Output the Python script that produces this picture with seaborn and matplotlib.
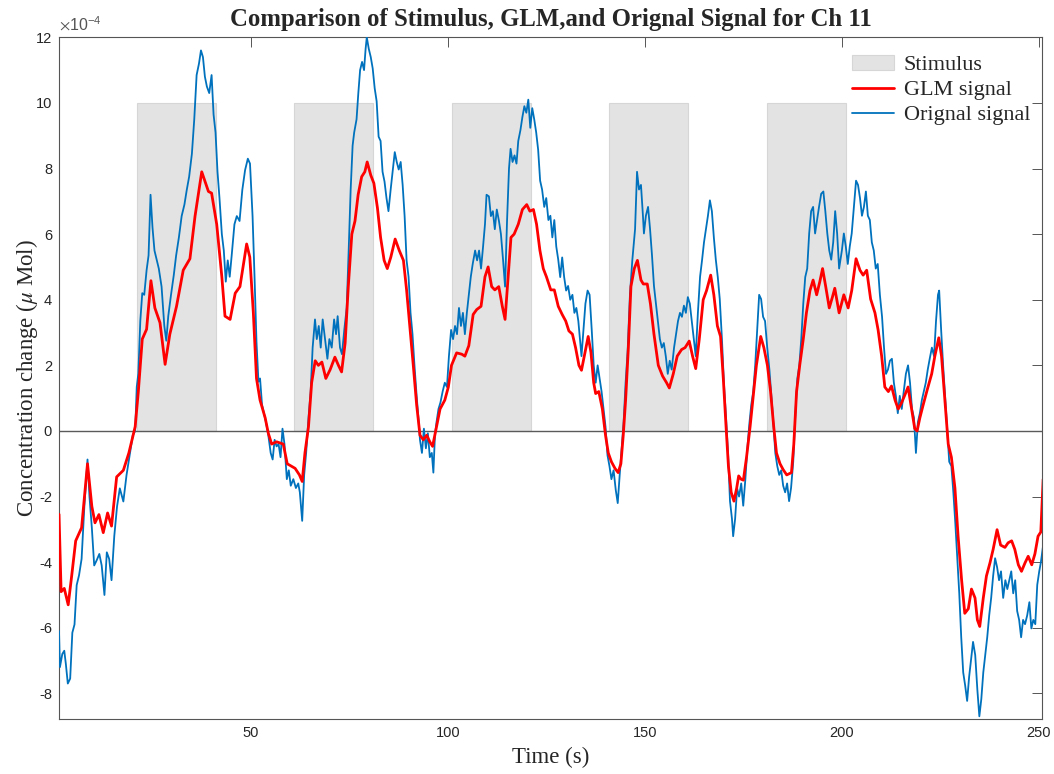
import numpy as np
import pandas as pd
import matplotlib
matplotlib.use("Agg")
import matplotlib.pyplot as plt
import seaborn as sns
from matplotlib.ticker import FuncFormatter

# ---------------- data (concentration in units of 1e-4 uMol) ----------------
stim_onset = [21, 61, 101, 141, 181]
stim_offset = [41, 81, 121, 161, 201]
stim_level = [10, 10, 10, 10, 10]

glm_t = [1.27, 1.8, 2.6, 3.6, 4.5, 5.5, 7.0, 8.5, 9.6, 10.4, 11.4, 12.5, 13.6, 14.6, 15.9, 17.6, 19.0, 20.6,
         21.4, 22.4, 23.5, 24.6, 25.6, 26.9, 28.2, 29.4, 31.1, 32.8, 34.5, 35.8, 37.5, 39.2, 40.0, 41.3, 42.6,
         43.4, 44.7, 46.0, 47.2, 48.9, 49.7, 50.6, 51.4, 52.3, 53.6, 54.4, 55.25, 56.5, 58.2, 59.2, 61.2, 62.3,
         63.0, 63.7, 64.6, 65.4, 66.3, 67.1, 68.0, 69.0, 70.1, 71.3, 72.2, 73.0, 73.9, 74.7, 75.6, 76.4, 77.2,
         78.1, 78.9, 79.5, 80.4, 81.2, 82.1, 82.9, 83.8, 84.6, 85.5, 86.6, 87.65, 88.7, 89.5, 90.4, 91.2, 92.05,
         92.9, 93.75, 94.6, 95.4, 96.1, 97.0, 98.0, 99.2, 100.1, 100.9, 102.2, 103.5, 104.3, 105.3, 106.4, 107.3,
         108.4, 109.4, 110.2, 111.1, 111.9, 112.9, 113.8, 114.5, 115.1, 116.0, 116.8, 117.85, 118.9, 120.0, 120.8,
         121.7, 122.5, 123.35, 124.2, 125.0, 126.1, 127.0, 128.0, 129.0, 129.9, 130.7, 131.6, 132.4, 133.25,
         133.9, 134.8, 135.6, 136.3, 137.0, 137.5, 138.3, 139.2, 140.0, 140.7, 141.5, 142.4, 143.2, 143.9, 144.5,
         145.1, 145.8, 146.45, 147.3, 148.1, 149.0, 149.6, 150.6, 151.4, 152.3, 153.4, 154.5, 155.5, 156.2, 157.2,
         158.2, 159.3, 160.2, 161.25, 162.1, 162.9, 163.8, 164.8, 165.65, 166.7, 167.5, 168.4, 169.2, 169.9, 170.6,
         171.2, 171.9, 172.6, 173.3, 173.8, 174.4, 175.0, 175.8, 176.7, 177.5, 178.3, 179.4, 180.2, 181.1, 181.9,
         182.7, 183.4, 184.3, 185.1, 186.0, 187.2, 187.8, 188.5, 189.3, 190.2, 191.0, 191.9, 192.7, 193.6, 194.4,
         195.1, 195.9, 196.8, 197.6, 198.2, 199.3, 200.5, 201.6, 202.5, 203.6, 204.6, 205.4, 206.3, 207.3, 208.4,
         209.2, 210.1, 210.9, 211.8, 212.6, 213.5, 214.3, 215.2, 216.0, 216.8, 217.7, 218.5, 219.1, 219.8, 220.65,
         221.7, 222.8, 223.6, 224.6, 225.3, 226.15, 227.0, 227.8, 228.7, 229.5, 230.4, 231.2, 232.1, 232.9, 233.8,
         234.4, 235.0, 235.9, 236.7, 237.6, 238.4, 239.4, 240.3, 241.4, 242.2, 243.1, 243.9, 244.8, 245.6, 246.5,
         247.3, 248.2, 249.0, 249.8, 250.5, 251.1]
glm_v = [-2.54, -4.9, -4.8, -5.3, -4.4, -3.35, -2.95, -1.0, -2.3, -2.8, -2.55, -3.1, -2.5, -2.9, -1.4, -1.2, -0.67, 0.13,
         1.2, 2.8, 3.1, 4.58, 3.75, 3.3, 2.03, 2.95, 3.8, 4.9, 5.25, 6.55, 7.9, 7.3, 7.25, 6.3, 4.7,
         3.5, 3.4, 4.2, 4.4, 5.7, 5.3, 3.6, 1.6, 0.94, 0.4, -0.07, -0.4, -0.33, -0.4, -1.0, -1.14, -1.34,
         -1.54, -0.67, 0.13, 1.47, 2.14, 2.0, 2.1, 1.6, 1.87, 2.25, 2.0, 1.8, 2.68, 4.4, 6.0, 6.4, 7.2,
         7.75, 7.9, 8.2, 7.8, 7.55, 6.8, 5.9, 5.2, 4.95, 5.3, 5.85, 5.5, 5.2, 4.3, 3.1, 2.0, 0.8,
         -0.13, -0.27, -0.13, -0.33, -0.47, 0.07, 0.67, 0.94, 1.34, 2.0, 2.38, 2.34, 2.28, 2.6, 3.55, 3.7,
         3.8, 4.7, 5.0, 4.4, 4.3, 4.4, 3.8, 3.4, 4.4, 5.9, 6.0, 6.3, 6.75, 6.9, 6.7,
         6.75, 6.3, 5.5, 4.95, 4.7, 4.3, 4.3, 3.8, 3.55, 3.35, 3.05, 2.95, 2.54, 2.0,
         1.85, 2.4, 2.88, 2.4, 1.47, 1.14, 1.2, 0.67, -0.13, -0.67, -0.94, -1.14, -1.27, -1.0, -0.13,
         0.94, 2.54, 4.4, 4.95, 5.2, 4.6, 4.48, 4.48, 3.88, 2.95, 2.0, 1.67, 1.47, 1.31, 1.74,
         2.28, 2.48, 2.54, 2.74, 2.28, 1.9, 2.8, 4.0, 4.28, 4.75, 4.15, 3.2, 2.88, 1.6, 0.13,
         -1.07, -1.87, -2.14, -1.74, -1.37, -1.47, -1.5, -0.8, 0.13, 1.07, 2.0, 2.88, 2.54, 2.0, 1.2,
         0.13, -0.67, -1.0, -1.18, -1.34, -1.27, -0.4, 1.2, 2.0, 2.8, 3.6, 4.28, 4.6, 4.15, 4.55,
         4.95, 4.4, 3.75, 4.08, 4.35, 3.6, 4.15, 3.75, 4.28, 5.25, 4.9, 4.75, 4.9, 4.02, 3.6,
         3.08, 2.28, 1.34, 1.2, 1.37, 0.94, 0.67, 0.87, 1.1, 1.34, 0.67, 0.07, 0.0, 0.4, 0.8,
         1.27, 1.74, 2.28, 2.84, 2.28, 0.94, -0.4, -0.8, -1.74, -3.21, -4.55, -5.56, -5.42, -4.82, -5.09,
         -5.76, -5.96, -5.09, -4.42, -4.02, -3.61, -3.01, -3.48, -3.55, -3.41, -3.35, -3.61, -4.08, -4.28, -4.02,
         -3.82, -4.08, -3.75, -3.21, -3.08, -1.47]

orig_t = [1.27, 1.5, 2.1, 2.6, 3.0, 3.5, 4.1, 4.65, 5.2, 5.75, 6.35, 7.0, 7.7, 8.5, 9.0, 9.6, 10.2, 10.8, 11.5, 12.1,
          12.8, 13.4, 14.0, 14.6, 15.3, 16.0, 16.7, 17.6, 18.4, 19.3, 20.0, 20.6, 21.0, 21.4, 21.9, 22.4, 22.9, 23.5,
          24.0, 24.5, 25.0, 25.5, 26.1, 26.6, 27.3, 28.0, 28.5, 29.0, 29.7, 30.4, 31.0, 31.7, 32.4, 33.1, 33.7, 34.3,
          35.0, 35.6, 36.2, 36.8, 37.3, 37.8, 38.3, 38.8, 39.4, 40.0, 40.5, 41.0, 41.5, 42.0, 42.6, 43.1, 43.6, 44.1,
          44.6, 45.1, 45.8, 46.4, 47.1, 47.8, 48.5, 49.2, 49.75, 50.4, 50.9, 51.4, 51.9, 52.3, 52.8, 53.3, 53.8,
          54.4, 55.0, 55.5, 56.0, 56.5, 57.0, 57.5, 58.0, 58.5, 59.1, 59.6, 60.1, 60.75, 61.4, 62.0, 62.4, 63.0,
          63.5, 64.0, 64.6, 65.15, 65.65, 66.25, 66.7, 67.2, 67.7, 68.2, 68.8, 69.4, 69.9, 70.5, 71.1, 71.6, 72.0,
          72.6, 73.1, 73.7, 74.3, 74.8, 75.3, 75.8, 76.2, 76.8, 77.25, 77.7, 78.2, 78.7, 79.1, 79.4, 79.9, 80.4,
          80.9, 81.4, 81.9, 82.4, 82.9, 83.4, 83.9, 84.4, 84.9, 85.45, 85.95, 86.5, 87.0, 87.5, 88.0, 88.5, 89.0,
          89.5, 90.0, 90.5, 91.0, 91.5, 92.05, 92.5, 92.9, 93.4, 93.9, 94.4, 94.9, 95.4, 95.9, 96.3, 96.7, 97.1,
          97.6, 98.1, 98.65, 99.2, 99.75, 100.25, 100.8, 101.3, 101.8, 102.3, 102.8, 103.3, 103.8, 104.3, 104.8,
          105.3, 105.8, 106.3, 106.9, 107.4, 107.9, 108.4, 108.9, 109.4, 109.8, 110.4, 110.9, 111.4, 111.9, 112.4,
          112.95, 113.45, 114.0, 114.5, 115.0, 115.5, 115.9, 116.4, 116.9, 117.4, 117.85, 118.4, 118.9, 119.4,
          119.9, 120.4, 120.9, 121.4, 121.9, 122.4, 122.9, 123.4, 123.9, 124.45, 124.95, 125.5, 126.0, 126.5,
          127.0, 127.5, 128.0, 128.5, 129.0, 129.5, 130.0, 130.5, 131.05, 131.6, 132.1, 132.6, 133.1, 133.5,
          133.9, 134.4, 134.9, 135.45, 135.96, 136.5, 137.0, 137.5, 138.0, 138.5, 139.0, 139.5, 140.0, 140.5,
          141.0, 141.5, 142.05, 142.6, 143.1, 143.6, 144.1, 144.6, 145.1, 145.6, 146.2, 146.8, 147.5, 148.0,
          148.5, 149.0, 149.5, 149.75, 150.25, 150.8, 151.3, 151.8, 152.3, 152.8, 153.3, 153.8, 154.3, 154.8,
          155.3, 155.8, 156.3, 156.8, 157.4, 157.9, 158.4, 158.9, 159.4, 159.9, 160.4, 160.9, 161.4, 161.9,
          162.4, 162.9, 163.45, 164.0, 164.5, 165.0, 165.5, 166.0, 166.5, 167.0, 167.5, 168.0, 168.5, 169.0,
          169.55, 170.05, 170.6, 171.1, 171.6, 172.1, 172.4, 172.9, 173.4, 173.9, 174.45, 174.96, 175.5, 176.0,
          176.5, 177.0, 177.5, 178.0, 178.5, 179.0, 179.5, 180.0, 180.5, 181.05, 181.6, 182.1, 182.6, 183.1,
          183.6, 184.1, 184.6, 185.1, 185.6, 186.1, 186.6, 187.1, 187.65, 188.2, 188.7, 189.2, 189.7, 190.2,
          190.7, 191.2, 191.7, 192.2, 192.7, 193.2, 193.7, 194.2, 194.75, 195.3, 195.8, 196.3, 196.8, 197.3,
          197.8, 198.3, 198.8, 199.3, 200.0, 200.5, 201.0, 201.5, 202.0, 202.5, 203.05, 203.6, 204.1, 204.6,
          205.1, 205.6, 206.1, 206.6, 207.1, 207.6, 208.1, 208.6, 209.1, 209.65, 210.2, 210.7, 211.2, 211.7,
          212.2, 212.7, 213.2, 213.7, 214.2, 214.7, 215.2, 215.7, 216.25, 216.8, 217.3, 217.8, 218.3, 218.8,
          219.3, 219.8, 220.3, 220.8, 221.3, 221.8, 222.3, 222.85, 223.4, 223.9, 224.4, 224.7, 225.2, 225.7,
          226.2, 226.7, 227.25, 227.8, 228.3, 228.8, 229.3, 229.8, 230.3, 230.8, 231.3, 231.8, 232.3, 232.8,
          233.3, 233.85, 234.4, 234.9, 235.4, 235.9, 236.4, 236.9, 237.4, 237.9, 238.4, 238.9, 239.4, 239.9,
          240.4, 240.95, 241.5, 242.0, 242.5, 243.0, 243.5, 244.0, 244.5, 245.0, 245.5, 246.0, 246.5, 247.05,
          247.6, 248.1, 248.6, 249.1, 249.6, 250.1, 250.5, 251.1]
orig_v = [-6.1, -7.2, -6.8, -6.7, -7.1, -7.7, -7.55, -6.15, -5.9, -4.7, -4.4, -3.9, -2.3, -0.87, -2.0, -2.95, -4.1, -3.95, -3.75, -4.1,
          -5.0, -3.7, -3.9, -4.55, -3.2, -2.3, -1.75, -2.15, -1.35, -0.67, -0.13, 0.0, 1.34, 1.75, 3.35, 4.2, 4.15, 4.9,
          5.35, 7.2, 6.2, 5.5, 5.2, 4.95, 4.4, 3.2, 2.75, 3.5, 4.15, 4.75, 5.35, 5.9, 6.55, 6.9, 7.35, 7.75,
          8.45, 9.5, 10.85, 11.2, 11.6, 11.4, 10.8, 10.5, 10.3, 10.85, 9.65, 9.1, 7.9, 7.1, 6.0, 5.5, 4.55, 5.2,
          4.7, 5.35, 6.3, 6.55, 6.4, 7.35, 7.95, 8.3, 8.15, 6.55, 4.7, 2.7, 1.5, 1.6, 0.8, 0.54, 0.27,
          -0.13, -0.67, -0.87, -0.27, -0.47, -0.4, -0.8, 0.07, -0.4, -1.47, -1.2, -1.67, -1.47, -1.74, -1.6, -1.87, -2.74,
          -1.34, -0.67, 0.4, 1.2, 2.54, 3.4, 2.8, 3.2, 2.54, 3.4, 2.8, 2.2, 2.8, 2.54, 3.4, 2.95, 3.5,
          2.54, 2.34, 3.1, 3.75, 5.5, 7.35, 8.7, 9.1, 9.5, 10.3, 11.0, 11.25, 11.0, 11.65, 12.0, 11.65, 11.4,
          11.05, 10.45, 10.05, 8.97, 8.84, 7.9, 7.6, 7.1, 6.7, 7.35, 7.9, 8.5, 8.2, 7.97, 8.2, 7.5, 6.55,
          5.2, 4.7, 3.6, 2.95, 2.0, 1.07, 0.4, -0.27, -0.67, 0.07, -0.53, -0.07, -0.8, -0.67, -1.27, -0.13, 0.27,
          0.67, 0.87, 1.2, 1.47, 1.34, 2.28, 3.08, 2.8, 3.2, 2.95, 3.75, 3.2, 3.6, 2.95, 3.6,
          4.15, 4.7, 5.1, 5.5, 5.2, 5.5, 4.95, 5.6, 6.3, 7.2, 7.15, 6.55, 6.7, 6.15, 6.75,
          6.4, 6.0, 5.2, 4.4, 6.4, 8.0, 8.6, 8.2, 8.4, 8.15, 8.84, 9.17, 9.57, 9.9,
          9.7, 10.1, 9.24, 9.84, 9.5, 9.1, 8.57, 7.63, 7.36, 6.83, 7.1, 6.43, 6.56, 5.9,
          6.43, 5.62, 5.22, 4.69, 5.29, 4.69, 4.28, 4.42, 4.0, 4.15, 3.6, 3.75, 3.35, 2.8,
          2.28, 3.08, 3.88, 4.28, 4.15, 3.08, 2.0, 1.47, 2.0, 1.6, 1.2, 0.67, 0.13, -0.74,
          -1.07, -1.47, -1.2, -1.8, -2.2, -1.34, -0.54, 0.27, 1.47, 2.4, 4.15, 5.2, 6.15, 7.9,
          7.36, 7.5, 6.56, 6.02, 6.56, 6.83, 6.16, 5.35, 4.42, 3.88, 3.35, 2.8, 2.54, 2.68,
          2.28, 1.74, 2.14, 1.87, 2.54, 2.95, 3.35, 3.6, 3.48, 3.82, 3.6, 4.08, 3.88, 3.35,
          2.8, 2.28, 3.6, 4.7, 5.2, 5.75, 6.16, 6.56, 7.03, 6.7, 5.9, 5.22, 4.69, 4.02,
          2.81, 1.47, 0.4, -0.67, -2.14, -2.68, -3.21, -2.68, -1.74, -2.0, -1.6, -2.28, -1.47, -0.54,
          0.2, 0.8, 1.2, 2.0, 3.08, 4.15, 4.02, 3.48, 3.35, 2.54, 1.87, 1.07, 0.27, -0.67,
          -1.07, -1.34, -1.2, -1.67, -1.87, -1.6, -2.14, -1.74, -0.94, 0.54, 1.6, 2.0, 2.81, 3.88,
          4.69, 4.95, 6.02, 6.7, 6.83, 6.02, 6.43, 6.83, 7.23, 7.3, 6.7, 6.02, 5.5, 5.22,
          5.75, 6.7, 6.02, 4.95, 5.5, 6.02, 5.62, 5.09, 5.62, 6.02, 6.83, 7.63, 7.5, 7.1,
          6.56, 6.83, 7.3, 6.56, 6.43, 5.75, 5.5, 4.95, 5.09, 4.15, 3.48, 2.54, 1.74, 1.87,
          2.14, 2.2, 1.47, 1.07, 0.54, 1.07, 0.67, 1.2, 1.74, 2.0, 1.47, 0.67, 0.4, -0.67,
          0.27, 0.54, 0.94, 1.2, 1.47, 1.87, 2.2, 2.54, 2.28, 3.35, 4.15, 4.28, 3.08, 2.0,
          1.07, 0.13, -0.94, -1.07, -1.87, -2.81, -3.88, -4.95, -6.29, -7.36, -7.76, -8.23, -7.5, -6.96,
          -6.43, -6.83, -7.9, -8.7, -8.17, -7.36, -6.83, -6.29, -5.62, -5.09, -4.42, -3.88, -4.15, -4.55,
          -4.28, -5.09, -4.55, -4.82, -4.55, -4.28, -4.95, -4.55, -5.49, -5.76, -6.29, -5.76, -5.89, -5.62,
          -5.22, -6.02, -5.76, -5.89, -4.69, -4.28, -4.02, -3.48]

SCALE = 1e-4
title_text = "Comparison of Stimulus, GLM,and Orignal Signal for Ch 11"
x_label = "Time (s)"
y_label = r"Concentration change ($\mu$ Mol)"
exponent_label = r"$\times\mathdefault{10^{-4}}$"
x_ticks = [50, 100, 150, 200, 250]
y_ticks = [-8, -6, -4, -2, 0, 2, 4, 6, 8, 10, 12]

# ---------------- styling ----------------
sns.set_theme(style="white")
plt.rcParams["font.family"] = ["Liberation Sans", "DejaVu Sans"]
plt.rcParams["mathtext.fontset"] = "stix"
plt.rcParams["axes.unicode_minus"] = False

glm_df = pd.DataFrame({"t": glm_t, "v": np.array(glm_v) * SCALE})
orig_df = pd.DataFrame({"t": orig_t, "v": np.array(orig_v) * SCALE})

fig = plt.figure(figsize=(10.54, 7.74), dpi=100)
ax = fig.add_axes([0.0560, 0.0711, 0.9886 - 0.0560, 0.9518 - 0.0711])

on = np.array(stim_onset, dtype=float)
off = np.array(stim_offset, dtype=float)
ax.bar(on, np.array(stim_level) * SCALE, width=off - on, align="edge",
       color="#e3e3e3", edgecolor="#d6d6d6", linewidth=0.8, label="Stimulus", zorder=1)
ax.axhline(0, color="#5a5a5a", linewidth=1.0, zorder=2)

sns.lineplot(data=orig_df, x="t", y="v", ax=ax, color="#0072BD", linewidth=1.3,
             estimator=None, sort=False, label="Orignal signal", zorder=3)
sns.lineplot(data=glm_df, x="t", y="v", ax=ax, color="#FF0000", linewidth=2.0,
             estimator=None, sort=False, label="GLM signal", zorder=4)

ax.set_xlim(1.27, 250.8)
ax.set_ylim(-8.78 * SCALE, 12 * SCALE)
ax.set_xticks(x_ticks)
ax.set_yticks(np.array(y_ticks) * SCALE)
ax.yaxis.set_major_formatter(FuncFormatter(lambda v, p: f"{round(v / SCALE):d}"))
ax.text(0.0, 1.006, exponent_label, transform=ax.transAxes, ha="left", va="bottom",
        fontsize=11.5, color="#555555")

ax.tick_params(direction="in", top=True, right=True, length=7, width=0.7,
               color="#555555", labelcolor="#262626", labelsize=10.5, pad=5)
for s in ax.spines.values():
    s.set_color("#555555")
    s.set_linewidth(0.8)
    s.set_visible(True)

serif = ["Liberation Serif", "DejaVu Serif"]
ax.set_title(title_text, fontsize=17.8, fontweight="bold", family=serif, pad=8)
ax.set_xlabel(x_label, fontsize=16.5, family=serif, labelpad=5)
ax.set_ylabel(y_label, fontsize=16.5, family=serif, labelpad=-3)

handles, labels = ax.get_legend_handles_labels()
order = [labels.index("Stimulus"), labels.index("GLM signal"), labels.index("Orignal signal")]
leg = ax.legend([handles[i] for i in order], [labels[i] for i in order],
                loc="upper right", bbox_to_anchor=(1.004, 0.997), frameon=False,
                prop={"family": serif, "size": 16}, handlelength=1.9,
                handletextpad=0.45, labelspacing=0.2, borderaxespad=0.3)

fig.savefig("out.png", dpi=100)
